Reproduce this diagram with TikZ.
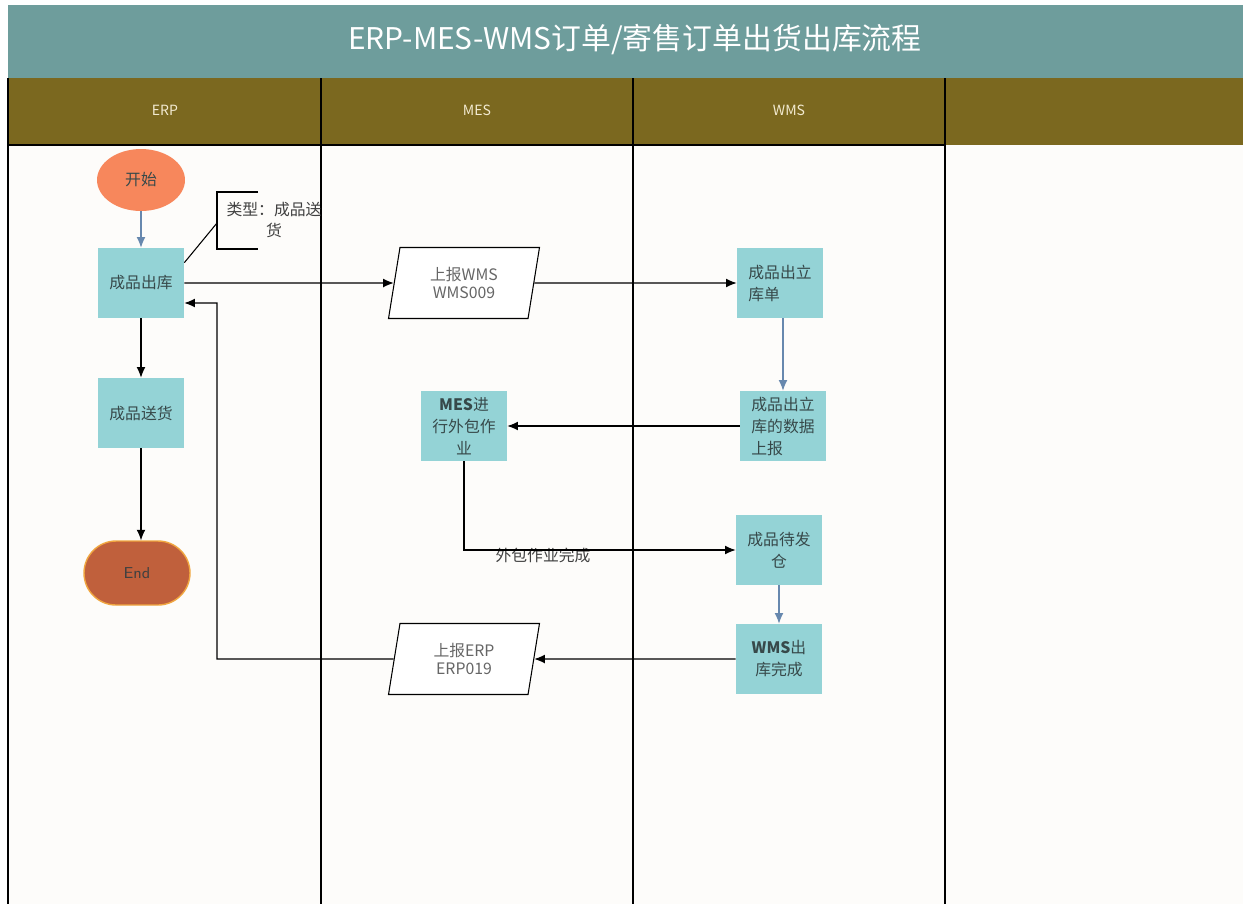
\documentclass[tikz,border=0pt]{standalone}
\usepackage{fontspec}
\setmainfont{Noto Sans CJK SC}
\usepackage{xcolor}
\usetikzlibrary{shapes.geometric, arrows.meta, positioning}

\definecolor{titlebg}{HTML}{6E9D9C}
\definecolor{lanebg}{HTML}{7B681F}
\definecolor{lanetext}{HTML}{F2EAD0}
\definecolor{paper}{HTML}{FDFCFA}
\definecolor{boxfill}{HTML}{94D3D6}
\definecolor{boxtext}{HTML}{37494A}
\definecolor{startfill}{HTML}{F7875C}
\definecolor{endfill}{HTML}{C0603C}
\definecolor{endline}{HTML}{F0A640}
\definecolor{flowblue}{HTML}{6788AE}

\tikzset{
  task/.style={rectangle, fill=boxfill, text=boxtext, minimum width=1.72cm,
    minimum height=1.4cm, inner sep=2pt, font=\fontsize{9}{12.5}\selectfont},
  report/.style={trapezium, trapezium left angle=75, trapezium right angle=105,
    trapezium stretches body=true, draw=black, line width=0.6pt, fill=white,
    text=black!60, minimum width=3.02cm, minimum height=1.42cm, align=center,
    font=\fontsize{9}{12}\selectfont},
  flow/.style={-{Latex[length=6pt,width=5pt]}, line width=0.6pt, black},
  flowb/.style={flow, flowblue},
  lane/.style={text=lanetext, font=\fontsize{8}{10}\selectfont}
}

\begin{document}
\begin{tikzpicture}[x=0.02cm, y=-0.02cm]
  \useasboundingbox (0,0) rectangle (1243,904);
  \fill[white] (0,0) rectangle (1243,904);
  \fill[paper] (8,145) rectangle (1243,904);
  % title and lane heads
  \fill[titlebg] (8,5) rectangle (1243,78);
  \fill[lanebg] (8,78) rectangle (1243,145);
  \node[text=white, font=\fontsize{17}{20}\selectfont] (title) at (635,40)
    {ERP-MES-WMS订单/寄售订单出货出库流程};
  \node[lane] (hERP) at (165,110) {ERP};
  \node[lane] (hMES) at (477,110) {MES};
  \node[lane] (hWMS) at (789,110) {WMS};
  \draw[line width=0.9pt] (8,145) -- (945,145);
  \foreach \x in {8,321,633,945}
    \draw[line width=0.9pt] (\x,78) -- (\x,904);

  % ERP lane
  \node[ellipse, fill=startfill, text=boxtext, minimum width=1.76cm,
    minimum height=1.24cm, font=\fontsize{9}{12}\selectfont] (start) at (141,180) {开始};
  \node[task] (out) at (141,283) {成品出库};
  \node[task] (ship) at (141,413) {成品送货};
  \node[rectangle, rounded corners=0.64cm, fill=endfill, draw=endline, line width=0.8pt,
    minimum width=2.12cm, minimum height=1.28cm, text=black!75,
    font=\sffamily\fontsize{9}{12}\selectfont] (end) at (137,573) {End};
  \node[align=center, text=black!75, font=\fontsize{9}{12}\selectfont] (note) at (274,220)
    {类型：成品送\\货};
  \coordinate (nt) at (258,192);
  \coordinate (nb) at (258,249);

  % MES lane
  \node[report] (upWMS) at (464,283) {上报WMS\\[-2pt]WMS009};
  \node[task, align=center, font=\fontsize{9}{12.5}\selectfont] (mesdo) at (464,426)
    {\textbf{MES}进\\行外包作\\业};
  \node[report] (upERP) at (464,659) {上报ERP\\[-2pt]ERP019};
  \node[text=black!75, font=\fontsize{9}{12}\selectfont] (lbl) at (543,555) {外包作业完成};

  % WMS lane
  \node[task, align=left] (wmsdoc) at (780,283) {成品出立\\库单};
  \node[task, align=left] (wmsrep) at (783,426) {成品出立\\库的数据\\上报};
  \node[task, align=center] (wait) at (779,550) {成品待发\\仓};
  \node[task, align=center] (done) at (779,659) {\textbf{WMS}出\\库完成};

  % connectors
  \draw[flowb] (start) -- (out);
  \draw[flow] (out) -- (ship);
  \draw[flow] (ship) -- (ship |- end.north);
  \draw[line width=0.6pt] (nt) -- (217,192) -- (217,249) -- (nb);
  \draw[line width=0.6pt] (out.north east) ++(0,-0.3cm) -- (217,223);
  \draw[flow] (out.east) -- (upWMS.west);
  \draw[flow] (upWMS.east) -- (wmsdoc.west);
  \draw[flowb] (wmsdoc.south -| wmsrep) -- (wmsrep.north);
  \draw[flow] (wmsrep.west) -- (mesdo.east);
  \draw[flow] (mesdo.south) |- (wait.west);
  \draw[flowb] (wait) -- (done);
  \draw[flow] (done.west) -- (upERP.east);
  \draw[flow] (upERP.west) -- (217,659) |- ([yshift=-0.4cm]out.east);
\end{tikzpicture}
\end{document}
